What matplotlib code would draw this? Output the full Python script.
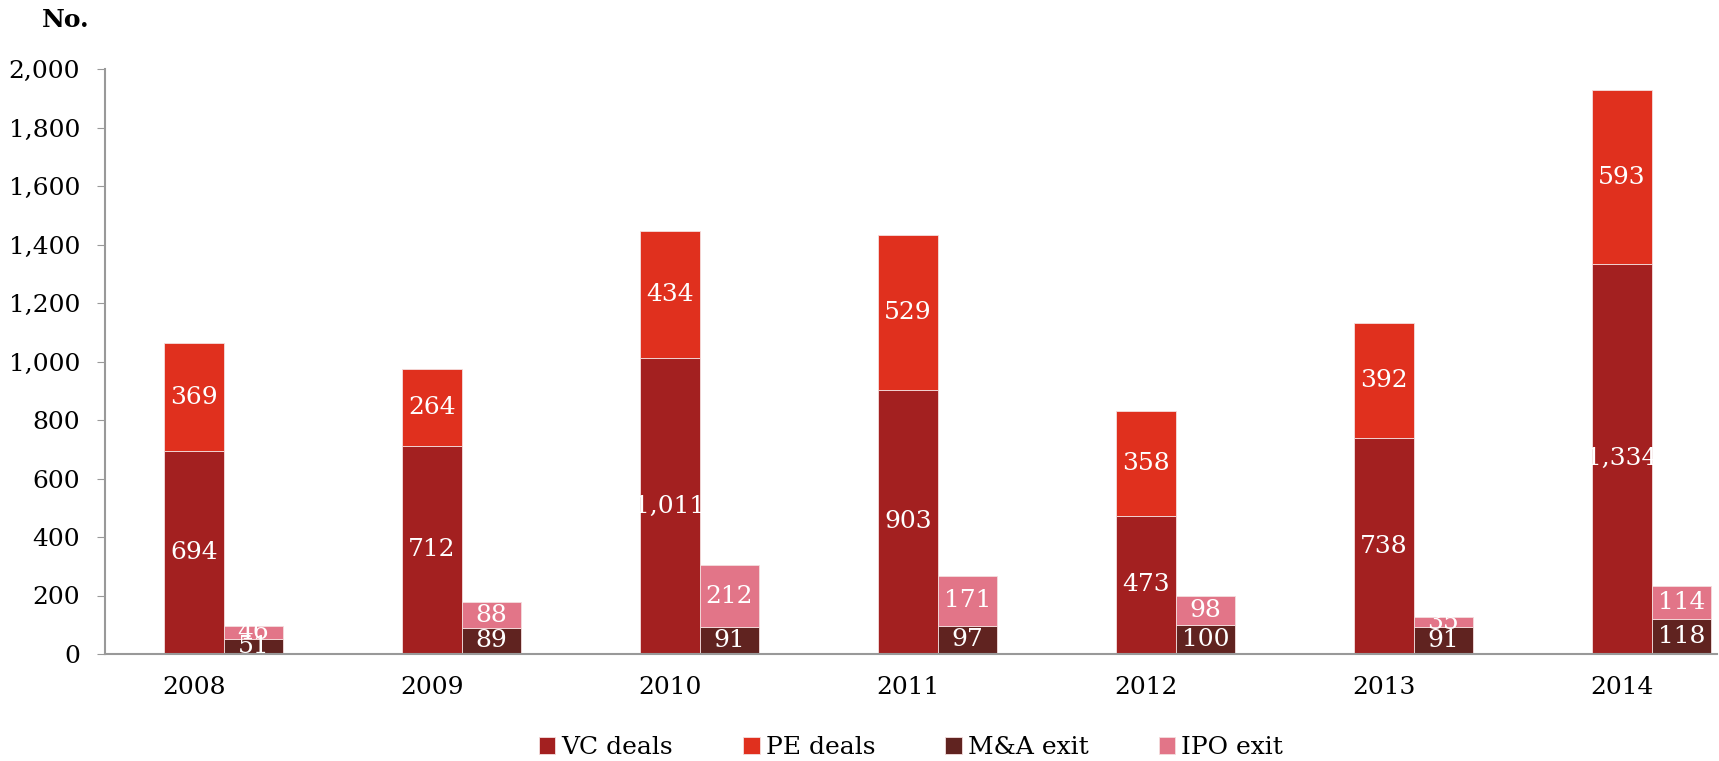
import matplotlib.pyplot as plt
import numpy as np

years = ['2008', '2009', '2010', '2011', '2012', '2013', '2014']
vc_deals = [694, 712, 1011, 903, 473, 738, 1334]
pe_deals = [369, 264, 434, 529, 358, 392, 593]
ma_exit = [51, 89, 91, 97, 100, 91, 118]
ipo_exit = [46, 88, 212, 171, 98, 35, 114]

colors = {'VC deals': '#A32020', 'PE deals': '#E0301E',
          'M&A exit': '#602320', 'IPO exit': '#E27588'}


def fmt(v):
    return f'{v:,}'


def label_segments(ax, x, bottoms, values):
    for xi, b, v in zip(x, bottoms, values):
        ax.text(xi, b + v / 2, fmt(v), ha='center', va='center',
                color='white', fontsize=18, clip_on=True)


def main():
    plt.rcParams['font.family'] = ['DejaVu Serif']
    fig = plt.figure(figsize=(17.19, 7.61), dpi=100)
    ax = fig.add_axes([105 / 1719, 1 - 654 / 761, 1612 / 1719, 585 / 761])

    x = np.arange(len(years))
    w = 0.25
    xe = x + w
    edge = dict(edgecolor='#f4dede', linewidth=0.6)
    ax.bar(x, vc_deals, w, color=colors['VC deals'], label='VC deals', **edge)
    ax.bar(x, pe_deals, w, bottom=vc_deals, color=colors['PE deals'], label='PE deals', **edge)
    ax.bar(xe, ma_exit, w, color=colors['M&A exit'], label='M&A exit', **edge)
    ax.bar(xe, ipo_exit, w, bottom=ma_exit, color=colors['IPO exit'], label='IPO exit', **edge)

    label_segments(ax, x, [0] * len(x), vc_deals)
    label_segments(ax, x, vc_deals, pe_deals)
    label_segments(ax, xe, [0] * len(x), ma_exit)
    label_segments(ax, xe, ma_exit, ipo_exit)

    ax.set_xlim(-0.374, 6.40)
    ax.set_ylim(0, 2000)
    ax.set_yticks(range(0, 2001, 200))
    ax.set_yticklabels([fmt(v) for v in range(0, 2001, 200)], fontsize=18)
    ax.set_xticks(x)
    ax.set_xticklabels(years, fontsize=18)
    ax.tick_params(axis='x', length=0, pad=16)
    ax.tick_params(axis='y', length=6, color='#999999', pad=12)
    for s in ['top', 'right']:
        ax.spines[s].set_visible(False)
    for s in ['left', 'bottom']:
        ax.spines[s].set_color('#999999')
        ax.spines[s].set_linewidth(1.5)

    fig.text(42 / 1719, 1 - 20 / 761, 'No.', fontsize=18, fontweight='bold', va='center')

    ax.legend(loc='center', bbox_to_anchor=(0.5, -(748 - 654) / 585.0),
              ncol=4, frameon=False, fontsize=18, handlelength=0.65, handleheight=0.65,
              handletextpad=0.25, columnspacing=2.8)

    fig.savefig('out.png')


if __name__ == '__main__':
    main()
